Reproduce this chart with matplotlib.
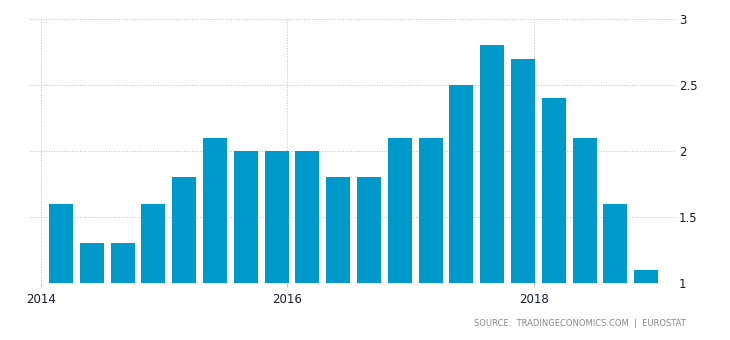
import matplotlib
matplotlib.use("Agg")
import matplotlib.pyplot as plt
from matplotlib.ticker import FuncFormatter

# quarterly values, 2014 Q1 .. 2018 Q4
years = [2014] * 4 + [2015] * 4 + [2016] * 4 + [2017] * 4 + [2018] * 4
quarters = [1, 2, 3, 4] * 5
values = [1.6, 1.3, 1.3, 1.6, 1.8, 2.1, 2.0, 2.0, 2.0, 1.8,
          1.8, 2.1, 2.1, 2.5, 2.8, 2.7, 2.4, 2.1, 1.6, 1.1]
year_ticks = [2014, 2016, 2018]
y_ticks = [1, 1.5, 2, 2.5, 3]

BAR_COLOR = "#0099cc"
GRID_COLOR = "#c4c4c4"
TEXT_COLOR = "#1a1a2e"

# bars sit a bit after the start of each quarter
x = [y + (q - 1) / 4 + 0.1625 for y, q in zip(years, quarters)]

fig = plt.figure(figsize=(7.3, 3.4), dpi=100)
ax = fig.add_axes([30 / 730, 1 - 283 / 340, 646 / 730, 264 / 340])

ax.bar(x, [v - 1 for v in values], bottom=1, width=0.195,
       color=BAR_COLOR, zorder=2)

ax.set_xlim(2013.911, 2019.154)
ax.set_ylim(1, 3)

ax.set_xticks(year_ticks)
ax.set_xticklabels([str(y) for y in year_ticks])
ax.set_yticks(y_ticks)
ax.yaxis.set_major_formatter(FuncFormatter(lambda v, _: f"{v:g}"))
ax.yaxis.tick_right()

ax.grid(True, color=GRID_COLOR, linewidth=0.75, linestyle=(0, (1, 1.5)), zorder=0)
ax.set_axisbelow(True)
for s in ax.spines.values():
    s.set_visible(False)

ax.tick_params(axis="x", length=3, width=0.75, color=GRID_COLOR,
               labelsize=8.5, labelcolor=TEXT_COLOR, pad=4)
ax.tick_params(axis="y", length=0, labelsize=8.5, labelcolor=TEXT_COLOR, pad=2)

fig.text(686 / 730, 1 - 324 / 340,
         "SOURCE:  TRADINGECONOMICS.COM  |  EUROSTAT",
         ha="right", va="center", fontsize=6, color="#8a8a8a")

fig.savefig("out.png", dpi=100)
